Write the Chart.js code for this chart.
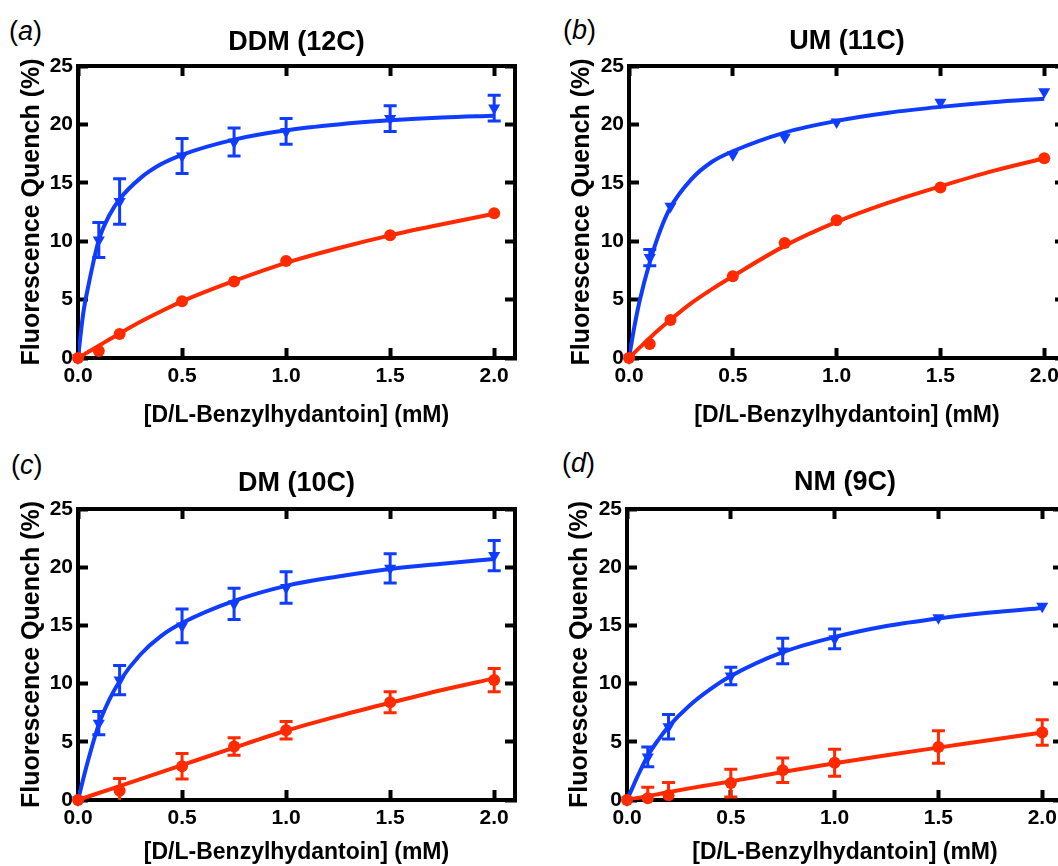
<!DOCTYPE html>
<html><head><meta charset="utf-8">
<script src="https://cdn.jsdelivr.net/npm/chart.js@4.4.1/dist/chart.umd.min.js"></script>
<style>
html,body{margin:0;padding:0;background:#fff;width:1058px;height:866px;overflow:hidden;position:relative;}
canvas{position:absolute;}
.lbl{position:absolute;font-family:'Liberation Sans',Arial,sans-serif;font-size:27px;line-height:30px;color:#000;white-space:nowrap;}
</style></head><body>
<div class="lbl" style="left:9px;top:16px">(<i>a</i>)</div>
<div class="lbl" style="left:563px;top:15px">(<i>b</i>)</div>
<div class="lbl" style="left:11px;top:450px">(<i>c</i>)</div>
<div class="lbl" style="left:562px;top:448px">(<i>d</i>)</div>
<canvas id="ca" width="530" height="440" style="left:0;top:0"></canvas>
<canvas id="cb" width="530" height="440" style="left:550px;top:0"></canvas>
<canvas id="cc" width="530" height="423" style="left:0;top:443px"></canvas>
<canvas id="cd" width="530" height="423" style="left:548px;top:443px"></canvas>
<script>
// ---- tick labels / categories ----
const xTicks = [0, 0.5, 1.0, 1.5, 2.0];
const yTicks = [0, 5, 10, 15, 20, 25];
const titles = ['DDM (12C)', 'UM (11C)', 'DM (10C)', 'NM (9C)'];
const xTitle = '[D/L-Benzylhydantoin] (mM)';
const yTitle = 'Fluorescence Quench (%)';

// ---- measured concentrations ----
const conc = [0, 0.1, 0.2, 0.5, 0.75, 1.0, 1.5, 2.0];
const concDMred = [0, 0.2, 0.5, 0.75, 1.0, 1.5, 2.0];
const fitX = [0, 0.025, 0.05, 0.1, 0.15, 0.2, 0.3, 0.4, 0.5, 0.75, 1.0, 1.25, 1.5, 1.75, 2.0];

// ---- (a) DDM ----
const ddmBlue    = [0, 10.1, 13.4, 17.3, 18.5, 19.4, 20.5, 21.4];
const ddmBlueErr = [0, 1.5, 1.95, 1.5, 1.2, 1.1, 1.1, 1.1];
const ddmRed     = [0, 0.6, 2.05, 4.85, 6.55, 8.3, 10.5, 12.4];
const ddmRedErr  = [0, 0, 0, 0, 0, 0, 0, 0];
const ddmBlueFit = [0, 3.8, 6.2, 10.1, 12.2, 13.6, 15.4, 16.6, 17.4, 18.7, 19.5, 20.0, 20.35, 20.6, 20.75];
const ddmRedFit  = [0, 0.26, 0.53, 1.05, 1.58, 2.1, 3.1, 4.0, 4.85, 6.6, 8.15, 9.4, 10.5, 11.45, 12.35];

// ---- (b) UM ----
const umBlue    = [0, 8.6, 13.0, 17.4, 18.9, 20.2, 21.9, 22.8];
const umBlueErr = [0, 0.7, 0, 0, 0, 0, 0, 0];
const umRed     = [0, 1.2, 3.25, 7.0, 9.85, 11.8, 14.6, 17.1];
const umRedErr  = [0, 0, 0, 0, 0, 0, 0, 0];
const umBlueFit = [0, 2.6, 4.8, 8.2, 10.9, 12.9, 15.3, 16.8, 17.7, 19.3, 20.3, 21.0, 21.5, 21.9, 22.2];
const umRedFit  = [0, 0.44, 0.87, 1.72, 2.52, 3.28, 4.7, 5.9, 7.0, 9.6, 11.65, 13.3, 14.7, 16.0, 17.1];

// ---- (c) DM ----
const dmBlue    = [0, 6.6, 10.3, 14.95, 16.85, 18.25, 19.9, 21.0];
const dmBlueErr = [0, 1.0, 1.25, 1.45, 1.35, 1.35, 1.25, 1.3];
const dmRed     = [0, 0.8, 2.9, 4.6, 6.0, 8.4, 10.3];
const dmRedErr  = [0, 1.05, 1.1, 0.75, 0.75, 0.9, 1.0];
const dmBlueFit = [0, 1.8, 3.5, 6.5, 8.6, 10.2, 12.5, 14.1, 15.2, 17.1, 18.4, 19.2, 19.85, 20.3, 20.7];
const dmRedFit  = [0, 0.15, 0.3, 0.6, 0.9, 1.2, 1.8, 2.4, 3.0, 4.5, 5.95, 7.2, 8.35, 9.45, 10.45];

// ---- (d) NM ----
const nmBlue    = [0, 3.7, 6.3, 10.65, 12.8, 13.85, 15.65, 16.65];
const nmBlueErr = [0, 0.85, 1.05, 0.75, 1.1, 0.85, 0, 0];
const nmRed     = [0, 0.15, 0.4, 1.45, 2.55, 3.2, 4.55, 5.8];
const nmRedErr  = [0, 0.95, 1.1, 1.2, 1.05, 1.15, 1.4, 1.1];
const nmBlueFit = [0, 1.0, 2.0, 3.8, 5.15, 6.3, 8.1, 9.5, 10.65, 12.7, 14.0, 14.95, 15.6, 16.1, 16.5];
const nmRedFit  = [0, 0.085, 0.17, 0.34, 0.5, 0.67, 1.0, 1.3, 1.6, 2.4, 3.15, 3.85, 4.5, 5.15, 5.8];

const BLUE = '#0f3cff';
const RED = '#ff2a00';
const FONT = "'Liberation Sans', Arial, Helvetica, sans-serif";
Chart.defaults.font.family = FONT;
Chart.defaults.color = '#000';

const pts = (xs, ys) => xs.map((x, i) => ({x: x, y: ys[i]}));

const errorBars = {
  id: 'errorBars',
  beforeDatasetsDraw(chart) {
    const ctx = chart.ctx, xs = chart.scales.x, ys = chart.scales.y, a = chart.chartArea;
    ctx.save();
    ctx.beginPath();
    ctx.rect(a.left, a.top - 30, a.right - a.left, a.bottom - a.top + 30);
    ctx.clip();
    chart.data.datasets.forEach(ds => {
      if (!ds.errors) return;
      ctx.strokeStyle = ds.borderColor;
      ctx.lineWidth = 3;
      ds.data.forEach((p, i) => {
        const e = ds.errors[i];
        if (!e) return;
        const px = xs.getPixelForValue(p.x);
        const y1 = ys.getPixelForValue(p.y + e), y2 = ys.getPixelForValue(p.y - e);
        ctx.beginPath();
        ctx.moveTo(px, y1); ctx.lineTo(px, y2);
        ctx.moveTo(px - 6.5, y1); ctx.lineTo(px + 6.5, y1);
        ctx.moveTo(px - 6.5, y2); ctx.lineTo(px + 6.5, y2);
        ctx.stroke();
      });
    });
    ctx.restore();
  }
};

function gridOpts() {
  return {drawOnChartArea: false, drawTicks: true, tickLength: -10, tickWidth: 4, tickColor: '#000'};
}
function borderOpts() { return {display: true, width: 4, color: '#000'}; }

function makePanel(id, cfg) {
  const titleLH = 27 * 1.2;
  new Chart(document.getElementById(id), {
    type: 'line',
    data: {
      datasets: [
        {data: pts(cfg.redX, cfg.red), errors: cfg.redErr, showLine: false, pointStyle: 'circle', pointRadius: 6,
         backgroundColor: RED, borderColor: RED, borderWidth: 0, clip: false},
        {data: pts(fitX, cfg.redFit), borderColor: RED, borderWidth: 4, pointRadius: 0, fill: false,
         cubicInterpolationMode: 'monotone'},
        {data: pts(conc, cfg.blue), errors: cfg.blueErr, showLine: false, pointStyle: 'triangle', rotation: 180,
         pointRadius: 7, backgroundColor: BLUE, borderColor: BLUE, borderWidth: 0, clip: false},
        {data: pts(fitX, cfg.blueFit), borderColor: BLUE, borderWidth: 4, pointRadius: 0, fill: false,
         cubicInterpolationMode: 'monotone'}
      ]
    },
    options: {
      responsive: false, animation: false, devicePixelRatio: 1,
      layout: {padding: {left: 0, right: 15, top: 0, bottom: 0}},
      plugins: {
        legend: {display: false}, tooltip: {enabled: false},
        title: {display: true, text: cfg.title, fullSize: false, color: '#000',
          font: {size: 27, weight: 'bold'},
          padding: {top: cfg.titleTop, bottom: 66 - cfg.titleTop - titleLH}}
      },
      scales: {
        x: {type: 'linear', position: 'bottom', min: 0, max: 2.1,
          afterBuildTicks: s => { s.ticks = xTicks.map(v => ({value: v})); },
          afterFit: s => { s.height = cfg.xh; },
          ticks: {callback: v => Number(v).toFixed(1), font: {size: 21, weight: 'bold'}, color: '#000',
            padding: 16, maxRotation: 0, autoSkip: false},
          grid: gridOpts(), border: borderOpts(),
          title: {display: true, text: xTitle, color: '#000', font: {size: 23, weight: 'bold'},
            padding: {top: 0, bottom: cfg.xtb}}},
        x2: {type: 'linear', position: 'top', min: 0, max: 2.1,
          afterBuildTicks: s => { s.ticks = xTicks.map(v => ({value: v})); },
          afterFit: s => { s.height = 0; },
          ticks: {display: false}, grid: gridOpts(), border: borderOpts()},
        y: {type: 'linear', position: 'left', min: 0, max: 25,
          afterBuildTicks: s => { s.ticks = yTicks.map(v => ({value: v})); },
          afterFit: s => { s.width = cfg.yw; },
          ticks: {callback: v => String(v), font: {size: 21, weight: 'bold'}, color: '#000', padding: 15},
          grid: gridOpts(), border: borderOpts(),
          title: {display: true, text: yTitle, color: '#000', font: {size: 25, weight: 'bold'},
            padding: {top: 17.5, bottom: 0}}},
        y2: {type: 'linear', position: 'right', min: 0, max: 25,
          afterBuildTicks: s => { s.ticks = yTicks.map(v => ({value: v})); },
          afterFit: s => { s.width = 0; },
          ticks: {display: false}, grid: gridOpts(), border: borderOpts()}
      }
    },
    plugins: [errorBars]
  });
}

makePanel('ca', {title: titles[0], titleTop: 26.3, xh: 82, xtb: 10.2, yw: 78,
  blue: ddmBlue, blueErr: ddmBlueErr, redX: conc, red: ddmRed, redErr: ddmRedErr,
  blueFit: ddmBlueFit, redFit: ddmRedFit});
makePanel('cb', {title: titles[1], titleTop: 25.8, xh: 82, xtb: 10.2, yw: 79,
  blue: umBlue, blueErr: umBlueErr, redX: conc, red: umRed, redErr: umRedErr,
  blueFit: umBlueFit, redFit: umRedFit});
makePanel('cc', {title: titles[2], titleTop: 24.8, xh: 66, xtb: 0, yw: 78,
  blue: dmBlue, blueErr: dmBlueErr, redX: concDMred, red: dmRed, redErr: dmRedErr,
  blueFit: dmBlueFit, redFit: dmRedFit});
makePanel('cd', {title: titles[3], titleTop: 23.8, xh: 66, xtb: 0, yw: 79,
  blue: nmBlue, blueErr: nmBlueErr, redX: conc, red: nmRed, redErr: nmRedErr,
  blueFit: nmBlueFit, redFit: nmRedFit});
</script>
</body></html>
